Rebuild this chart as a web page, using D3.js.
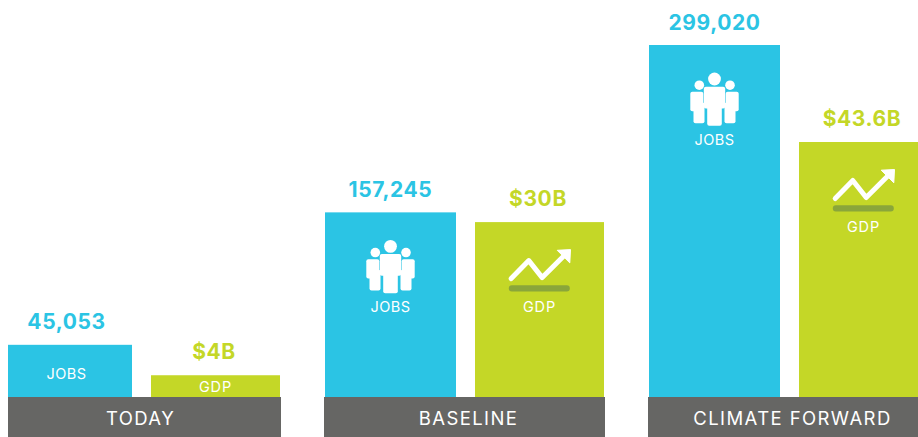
<!DOCTYPE html>
<html>
<head>
<meta charset="utf-8">
<script src="https://cdn.jsdelivr.net/npm/d3@7"></script>
<style>
    html, body { margin: 0; padding: 0; background: #fff; overflow: hidden; }
    text { font-family: Inter, "Open Sans", sans-serif; }
</style>
</head>
<body>
<div id="chart"></div>
<script>
// Values
const categories = ["TODAY", "BASELINE", "CLIMATE FORWARD"];
const jobs = [45053, 157245, 299020];
const gdp = [4, 30, 43.6];

const width = 918, height = 437;
const blue = "#2bc4e4", green = "#c4d727", grey = "#666664", darkGreen = "#8aa63a";

const svg = d3.select("#chart").append("svg")
    .attr("width", width)
    .attr("height", height)
    .style("display", "block");

// The original is cropped 8px in from the left
svg.append("clipPath").attr("id", "crop")
    .append("rect")
    .attr("x", 8).attr("y", 0)
    .attr("width", width - 8).attr("height", height);

// Groups are 281 wide on a 324 step, the last one runs off the right edge
const x = d3.scaleBand()
    .domain(categories)
    .range([0, 929])
    .paddingInner(43 / 324);

const barX = d3.scaleOrdinal().domain(["jobs", "gdp"]).range([1, 151]);
const barW = d3.scaleOrdinal().domain(["jobs", "gdp"]).range([131, 129]);

const yJobs = d3.scaleLinear().domain([0, 299020]).range([398, 45]);
const yGdp = d3.scaleLinear().domain([0, 43.6]).range([398.8, 142]);

const series = [
    {key: "jobs", name: "JOBS", values: jobs, y: yJobs, color: blue, fmt: d3.format(","), gap: 15.5, nudge: 0, labelTall: 99.5, labelShort: 34},
    {key: "gdp", name: "GDP", values: gdp, y: yGdp, color: green, fmt: d => "$" + d + "B", gap: 16, nudge: -1.5, labelTall: 89.5, labelShort: 17}
];

const bars = svg.append("g").attr("clip-path", "url(#crop)");

series.forEach(s => {
    const g = bars.selectAll(".group-" + s.key)
        .data(categories.map((c, i) => ({category: c, value: s.values[i]})))
        .enter()
        .append("g")
        .attr("class", "group-" + s.key)
        .attr("transform", d => `translate(${x(d.category) + barX(s.key)}, 0)`);

    const cx = barW(s.key) / 2;

    // Bars run under the grey band
    g.append("rect")
        .attr("y", d => s.y(d.value))
        .attr("width", barW(s.key))
        .attr("height", d => s.y(0) - s.y(d.value))
        .attr("fill", s.color);

    // Value above the bar
    g.append("text")
        .attr("x", cx + s.nudge)
        .attr("y", d => s.y(d.value) - s.gap)
        .attr("text-anchor", "middle")
        .attr("fill", s.color)
        .style("font-size", "21px")
        .style("font-weight", 700)
        .style("letter-spacing", "0.6px")
        .text(d => s.fmt(d.value));

    // Series name inside the bar
    g.append("text")
        .attr("x", cx)
        .attr("y", d => s.y(d.value) + (isTall(s, d) ? s.labelTall : s.labelShort))
        .attr("text-anchor", "middle")
        .attr("fill", "#fff")
        .style("font-size", "14.5px")
        .style("letter-spacing", s.key === "gdp" ? "0.9px" : "0.5px")
        .text(s.name);

    // Icons only fit in the taller bars
    g.filter(d => isTall(s, d))
        .append("g")
        .attr("transform", d => `translate(${cx}, ${s.y(d.value) + 27.5})`)
        .each(function() {
            if (s.key === "jobs") people(d3.select(this));
            else trend(d3.select(this));
        });
});

function isTall(s, d) {
    return s.y(0) - s.y(d.value) > 100;
}

function people(g) {
    g.selectAll("circle")
        .data([[0, 6.5, 6.4], [-15.2, 12.7, 4.8], [15.5, 12.7, 4.8]])
        .enter()
        .append("circle")
        .attr("cx", d => d[0]).attr("cy", d => d[1]).attr("r", d => d[2])
        .attr("fill", "#fff");

    const shapes = [
        [-24.2, 19.3, 13, 19.4], [-21, 30, 11, 20.7],
        [11.2, 19.3, 13, 19.4], [10, 30, 11, 20.7],
        [-10.7, 14.2, 21.4, 21.8], [-7.3, 25, 14.6, 28.3]
    ];
    g.selectAll("rect")
        .data(shapes)
        .enter()
        .append("rect")
        .attr("x", d => d[0]).attr("y", d => d[1])
        .attr("width", d => d[2]).attr("height", d => d[3])
        .attr("rx", 2)
        .attr("fill", "#fff");
}

function trend(g) {
    g.append("path")
        .attr("d", "M-28.3,29L-10.7,11L2.7,28L26,4.7")
        .attr("fill", "none")
        .attr("stroke", "#fff")
        .attr("stroke-width", 5)
        .attr("stroke-linecap", "round")
        .attr("stroke-linejoin", "round");
    g.append("path")
        .attr("d", "M31,0L17.7,0.7L30.3,13.3Z")
        .attr("fill", "#fff")
        .attr("stroke", "#fff")
        .attr("stroke-width", 1);
    g.append("rect")
        .attr("x", -30.7).attr("y", 35.7)
        .attr("width", 61).attr("height", 6.3)
        .attr("rx", 3)
        .attr("fill", darkGreen);
}

// Grey category bands along the bottom
const labelNudge = d3.scaleOrdinal().domain(categories).range([0, 4, 4]);

const bands = svg.append("g").attr("clip-path", "url(#crop)")
    .selectAll("g")
    .data(categories)
    .enter()
    .append("g")
    .attr("transform", d => `translate(${x(d)}, 397)`);

bands.append("rect")
    .attr("width", x.bandwidth())
    .attr("height", 40)
    .attr("fill", grey);

bands.append("text")
    .attr("x", d => x.bandwidth() / 2 + labelNudge(d))
    .attr("y", 28)
    .attr("text-anchor", "middle")
    .attr("fill", "#fff")
    .style("font-size", "18.5px")
    .style("letter-spacing", "1.4px")
    .text(d => d);
</script>
</body>
</html>
